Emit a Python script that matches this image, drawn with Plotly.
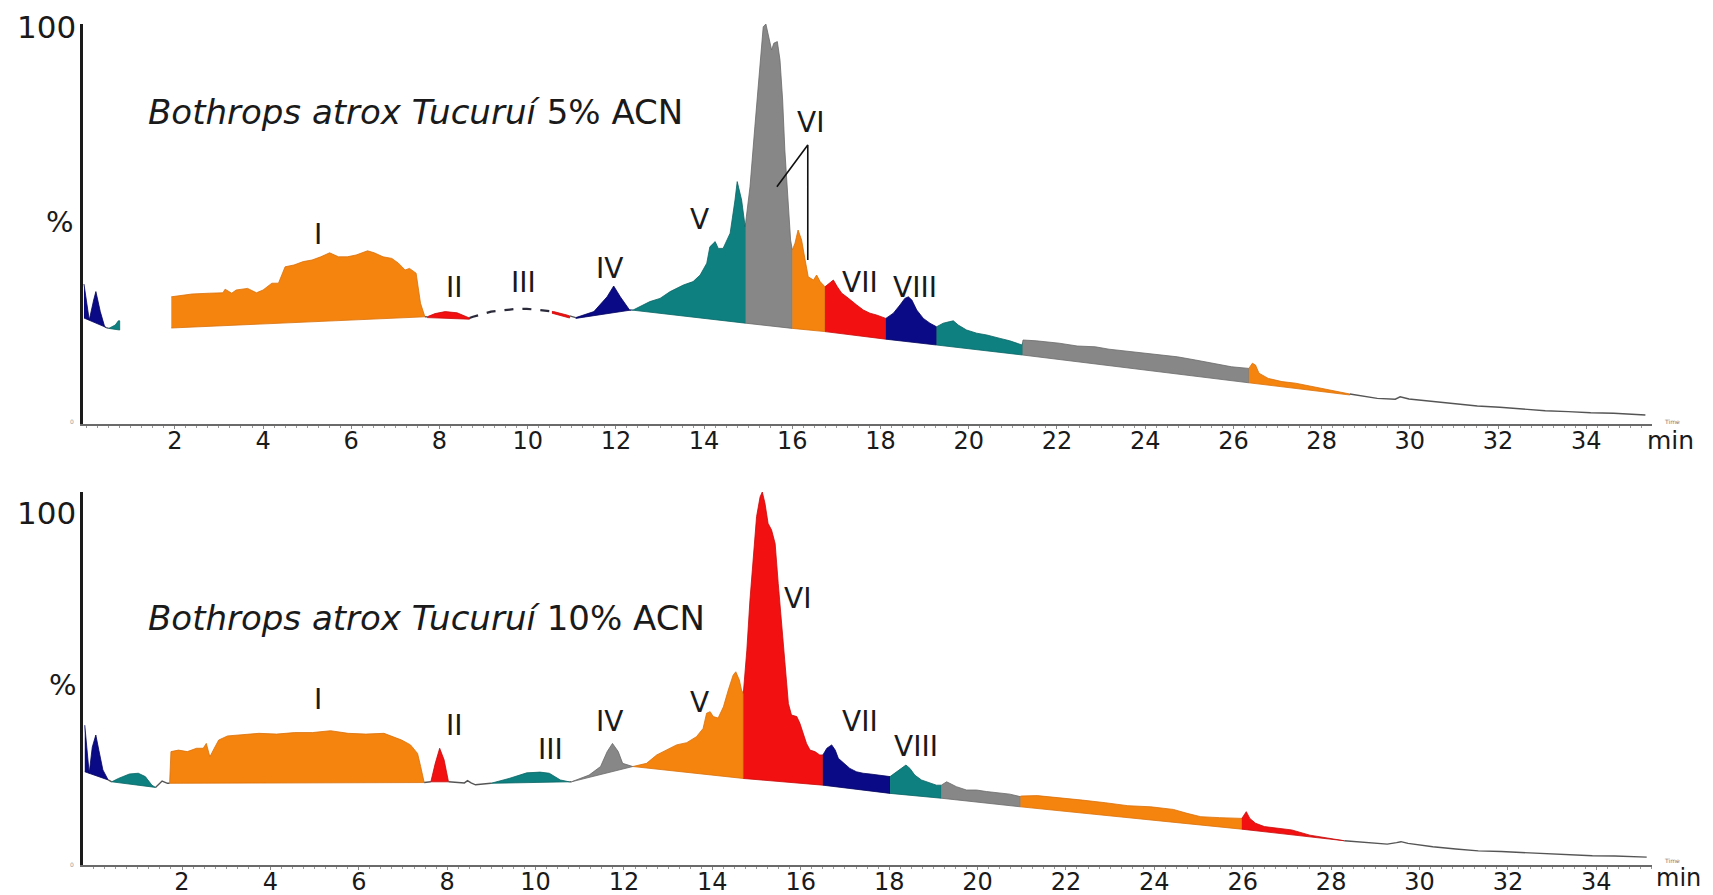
import numpy as np
import plotly.graph_objects as go

W, H = 1713, 895

# ---------------- data: top chromatogram (5% ACN) ----------------
top_sig_t = [-0.06, 0.0, 0.06, 0.16, 0.21, 0.31, 0.41, 0.45,
             0.5, 0.65, 0.72, 0.75,
             1.92, 2.39, 2.79, 3.09, 3.14, 3.29, 3.39, 3.65, 3.85, 4.00, 4.20, 4.35, 4.50, 4.70, 4.91, 5.11,
             5.31, 5.51, 5.71, 5.91, 6.11, 6.37, 6.52, 6.72, 6.92, 7.07, 7.22, 7.32, 7.47, 7.57, 7.67,
             7.72, 7.90, 8.13, 8.40, 8.68,
             8.76, 9.17, 9.68, 9.98, 10.28, 10.59, 10.89, 11.04,
             11.09, 11.50, 11.80, 11.95, 12.10, 12.31,
             12.39, 12.77, 13.00, 13.23, 13.53, 13.75, 13.91, 14.06, 14.13, 14.25, 14.32, 14.43, 14.59, 14.70,
             14.75, 14.85, 14.93,
             15.04, 15.15, 15.27, 15.34, 15.40, 15.45, 15.53, 15.58, 15.66, 15.72, 15.78, 15.83, 15.91, 15.96, 16.00,
             16.06, 16.13, 16.21, 16.29, 16.36, 16.48, 16.55, 16.63, 16.74,
             16.85, 16.93, 17.02, 17.12, 17.23, 17.35, 17.46, 17.61, 17.76, 17.91, 18.03, 18.12,
             18.29, 18.44, 18.55, 18.63, 18.71, 18.82, 18.97, 19.12, 19.27,
             19.42, 19.57, 19.65, 19.76, 19.95, 20.18, 20.41, 20.71, 20.93, 21.21,
             21.23, 21.53, 22.05, 22.46, 22.87, 23.18, 23.70, 24.21, 24.73, 25.14, 25.55, 25.96, 26.35,
             26.43, 26.50, 26.58, 26.79, 27.10, 27.41, 27.82, 28.23, 28.64,
             29.26, 29.67, 29.78, 29.98, 30.50, 31.01, 31.53, 32.04, 32.56, 33.07, 33.59, 34.10, 34.62, 35.34]
top_sig_y = [35, 30, 26, 31, 33.1, 28.1, 24.3, 24.1,
             23.9, 24.75, 25.8, 25.8,
             31.8, 32.5, 32.7, 32.8, 33.7, 32.7, 33.5, 33.9, 32.8, 33.5, 35.2, 35.2, 39.3, 39.75, 40.6, 41.0,
             41.8, 42.8, 41.8, 41.8, 42.25, 43.3, 42.8, 41.8, 41.4, 40.2, 38.5, 38.9, 37.7, 30.2, 26.8,
             26.8, 27.6, 28.1, 27.8, 26.5,
             26.8, 28.1, 28.7, 28.8, 28.5, 28.1, 27.25, 26.7,
             26.6, 28.1, 31.8, 34.5, 31.8, 28.5,
             28.5, 30.6, 31.4, 33.1, 34.75, 35.6, 37.25, 40.2, 44.3, 45.6, 43.9, 43.9, 47.7, 56.0,
             60.6, 56.0, 49.3,
             59.3, 74.3, 89.3, 99.3, 100.0, 97.7, 93.5, 95.2, 95.6, 91.0, 81.0, 68.5, 56.0, 46.0, 43.5,
             45.2, 48.5, 46.0, 41.0, 36.8, 36.0, 37.25, 35.6, 34.3,
             35.2, 36.0, 34.3, 32.7, 31.8, 30.6, 29.75, 28.5, 27.7, 27.25, 26.8, 26.4,
             27.7, 29.75, 31.4, 31.8, 31.0, 28.5, 26.4, 25.2, 24.3,
             25.2, 25.6, 25.8, 24.75, 23.5, 22.7, 22.25, 21.4, 20.8, 19.75,
             21.0, 20.8, 20.2, 19.5, 19.3, 18.7, 18.1, 17.5, 16.8, 16.0, 15.2, 14.3, 13.9,
             15.2, 14.75, 12.7, 11.4, 10.6, 10.2, 9.3, 8.3, 7.5,
             6.4, 6.2, 6.8, 6.25, 5.6, 5.0, 4.5, 4.2, 3.7, 3.3, 3.1, 2.8, 2.7, 2.25]
top_base_t = [-0.06, 0.45, 0.50, 0.75, 1.92, 7.67, 7.72, 8.68, 10.55, 10.95, 11.09, 12.35, 14.94,
              16.00, 16.74, 18.12, 19.27, 21.22, 26.35, 28.64, 35.4]
top_base_y = [26.5, 24.1, 23.9, 23.5, 24.0, 26.8, 26.6, 26.2, 27.7, 26.5, 26.4, 28.5, 25.2,
              23.9, 23.1, 21.2, 19.75, 17.25, 10.3, 7.25, 2.0]
top_bounds = [-0.06, 0.45, 0.50, 0.75, 1.92, 7.67, 7.72, 8.68, 10.55, 10.95, 11.09, 12.35, 14.94,
              16.00, 16.74, 18.12, 19.27, 21.22, 26.35, 28.64, 35.34]
top_kinds = ["navy", "line", "teal", "blank", "orange", "line", "red", "dash", "red", "line",
             "navy", "teal", "gray", "orange", "red", "navy", "teal", "gray", "orange", "line"]
top_label_text = ["I", "II", "III", "IV", "V", "VI", "VII", "VIII"]
top_label_t = [5.24, 8.34, 9.90, 11.86, 13.89, 16.41, 17.53, 18.79]
top_label_y = [47.25, 34.2, 35.5, 38.8, 51.1, 75.4, 35.5, 34.2]
vi_ptr_t = [15.65, 16.35, 16.35]
vi_ptr_y = [59.3, 69.75, 41.0]

# ---------------- data: bottom chromatogram (10% ACN) ----------------
bot_sig_t = [-0.20, -0.10, -0.03, 0.05, 0.12, 0.21, 0.33,
             0.41, 0.56, 0.81, 1.01, 1.17, 1.32, 1.40,
             1.47, 1.55, 1.67,
             1.72, 1.75, 1.92, 2.12, 2.33, 2.48, 2.55, 2.63, 2.73, 2.83, 3.03, 3.34, 3.74, 4.14, 4.55, 4.95,
             5.36, 5.76, 6.16, 6.57, 6.77, 6.97, 7.17, 7.33, 7.40, 7.48,
             7.63, 7.73, 7.83, 7.93, 8.03,
             8.39, 8.46, 8.54, 8.64,
             8.99, 9.40, 9.80, 10.10, 10.31, 10.56, 10.76,
             10.81, 11.21, 11.47, 11.62, 11.74, 11.87, 11.97, 12.12,
             12.20, 12.51, 12.74, 12.97, 13.19, 13.42, 13.64, 13.79, 13.87, 13.95, 14.02, 14.13, 14.25, 14.36,
             14.47, 14.53, 14.61, 14.66, 14.70,
             14.78, 14.85, 14.93, 15.00, 15.08, 15.13, 15.19, 15.26, 15.34, 15.42, 15.49, 15.57, 15.64, 15.72,
             15.79, 15.91, 15.98, 16.06, 16.13, 16.21, 16.32, 16.43, 16.50,
             16.59, 16.70, 16.78, 16.85, 16.97, 17.11, 17.26, 17.41, 17.57, 17.72, 17.87, 18.02,
             18.17, 18.28, 18.38, 18.47, 18.58, 18.73, 18.92, 19.07, 19.18,
             19.30, 19.37, 19.52, 19.75, 19.98, 20.20, 20.50, 20.73, 20.96,
             20.99, 21.35, 21.86, 22.37, 22.89, 23.40, 23.92, 24.43, 24.74, 25.05, 25.47, 25.98,
             26.08, 26.16, 26.29, 26.49, 26.80, 27.11, 27.52, 27.94, 28.30,
             28.76, 29.27, 29.48, 29.58, 29.74, 30.30, 30.82, 31.33, 31.85, 32.36, 32.88, 33.39, 33.91,
             34.42, 35.14]
bot_sig_y = [37.5, 24.6, 31.6, 34.85, 30.7, 25.5, 22.8,
             22.3, 23.2, 24.4, 24.6, 23.7, 21.4, 20.8,
             21.5, 22.5, 21.9,
             21.9, 30.4, 30.8, 30.4, 31.3, 31.3, 32.6, 29.0, 31.3, 33.5, 34.6, 34.85, 35.3, 35.1, 35.5, 35.5,
             36.0, 35.3, 35.1, 35.3, 34.4, 33.5, 32.2, 29.9, 26.4, 22.1,
             22.3, 27.25, 31.3, 28.2, 22.3,
             22.0, 22.6, 22.0, 21.5,
             21.9, 23.2, 24.7, 24.9, 24.6, 22.8, 22.3,
             22.3, 24.1, 26.4, 30.4, 32.6, 30.4, 27.25, 26.6,
             26.4, 27.25, 29.5, 30.8, 32.2, 32.8, 34.4, 36.6, 40.7, 41.1, 39.8, 39.4, 42.4, 46.9,
             50.9, 51.8, 49.6, 46.9, 46.0,
             57.6, 71.0, 82.7, 93.4, 98.7, 100.0, 97.0, 91.6, 89.8, 86.2, 75.5, 63.9, 53.2, 43.3,
             40.2, 39.8, 38.0, 35.3, 32.6, 30.8, 30.4, 29.5, 29.5,
             31.3, 32.2, 30.8, 28.6, 27.25, 25.9, 25.0, 24.6, 24.4, 24.1, 23.9, 23.7,
             25.0, 25.9, 26.8, 25.9, 24.1, 22.8, 21.9, 21.4, 21.4,
             22.3, 21.9, 21.0, 20.1, 20.1, 19.7, 19.4, 19.0, 18.35,
             18.5, 18.6, 17.9, 17.4, 16.7, 15.9, 15.6, 14.9, 13.85, 12.95, 12.7, 12.5,
             14.3, 12.5, 11.2, 10.3, 9.9, 9.4, 8.0, 7.2, 6.5,
             6.0, 5.6, 6.0, 6.25, 5.8, 4.9, 4.3, 3.8, 3.6, 3.3, 3.0, 2.8, 2.5,
             2.4, 2.1]
bot_base_t = [-0.20, 0.33, 0.41, 1.40, 1.72, 7.48, 7.63, 8.03, 8.99, 10.76, 10.81, 12.20, 14.70,
              16.50, 18.02, 19.18, 20.97, 25.98, 28.30, 35.2]
bot_base_y = [25.0, 22.8, 22.3, 20.8, 21.9, 22.1, 22.3, 22.3, 21.9, 22.3, 22.3, 26.4, 23.2,
              21.4, 19.2, 17.9, 15.6, 9.6, 6.5, 2.0]
bot_bounds = [-0.20, 0.33, 0.41, 1.40, 1.72, 7.48, 7.63, 8.03, 8.99, 10.76, 10.81, 12.20, 14.70,
              16.50, 18.02, 19.18, 20.97, 25.98, 28.30, 35.14]
bot_kinds = ["navy", "line", "teal", "line", "orange", "line", "red", "line", "teal", "line",
             "gray", "orange", "red", "navy", "teal", "gray", "orange", "red", "line"]
bot_label_text = ["I", "II", "III", "IV", "V", "VI", "VII", "VIII"]
bot_label_t = [5.08, 8.17, 10.34, 11.67, 13.70, 15.93, 17.33, 18.60]
bot_label_y = [44.5, 37.4, 31.0, 38.6, 43.6, 71.4, 38.6, 31.9]

tick_vals = list(range(2, 35, 2))
tick_text = [str(v) for v in tick_vals]
titles = ["<i>Bothrops atrox Tucuruí</i> 5% ACN", "<i>Bothrops atrox Tucuruí</i> 10% ACN"]

# ---------------- styles ----------------
FILL = {"orange": "#F5840F", "teal": "#0E8080", "navy": "#0A0A86", "gray": "#878787", "red": "#F21010"}
EDGE = {"orange": "#D9700A", "teal": "#0A6464", "navy": "#050560", "gray": "#6A6A6A", "red": "#C80A0A"}
FONT = "DejaVu Sans"

fig = go.Figure()


def add_panel(sig_t, sig_y, base_t, base_y, bounds, kinds, xa, ya):
    st = np.asarray(sig_t, float)
    sy = np.asarray(sig_y, float)
    bt = np.asarray(base_t, float)
    by = np.asarray(base_y, float)
    for i, kind in enumerate(kinds):
        a, b = bounds[i], bounds[i + 1]
        inner = (st > a) & (st < b)
        xs = np.concatenate([[a], st[inner], [b]])
        ys = np.concatenate([[np.interp(a, st, sy)], sy[inner], [np.interp(b, st, sy)]])
        if kind == "blank":
            continue
        if kind in ("line", "dash"):
            fig.add_trace(go.Scatter(
                x=xs, y=ys, mode="lines", xaxis=xa, yaxis=ya, hoverinfo="skip",
                line=dict(color="#555555" if kind == "line" else "#2a2a3a",
                          width=1.4 if kind == "line" else 2.2,
                          dash="solid" if kind == "line" else "dash")))
            continue
        binner = (bt > a) & (bt < b)
        bx = np.concatenate([[a], bt[binner], [b]])
        byy = np.concatenate([[np.interp(a, bt, by)], by[binner], [np.interp(b, bt, by)]])
        px = np.concatenate([xs, bx[::-1]])
        py = np.concatenate([ys, byy[::-1]])
        fig.add_trace(go.Scatter(
            x=px, y=py, mode="lines", fill="toself", fillcolor=FILL[kind],
            line=dict(color=EDGE[kind], width=0.8), xaxis=xa, yaxis=ya, hoverinfo="skip"))


add_panel(top_sig_t, top_sig_y, top_base_t, top_base_y, top_bounds, top_kinds, "x", "y")
add_panel(bot_sig_t, bot_sig_y, bot_base_t, bot_base_y, bot_bounds, bot_kinds, "x2", "y2")

# pointer lines for VI (top)
fig.add_trace(go.Scatter(x=vi_ptr_t, y=vi_ptr_y, mode="lines", xaxis="x", yaxis="y",
                         line=dict(color="#111111", width=1.6), hoverinfo="skip"))

annotations = []
for txt, t, y in zip(top_label_text, top_label_t, top_label_y):
    annotations.append(dict(text=txt, x=t, y=y, xref="x", yref="y", showarrow=False,
                            font=dict(family=FONT, size=28, color="#1a1a1a")))
for txt, t, y in zip(bot_label_text, bot_label_t, bot_label_y):
    annotations.append(dict(text=txt, x=t, y=y, xref="x2", yref="y2", showarrow=False,
                            font=dict(family=FONT, size=28, color="#1a1a1a")))


def paper(xp, yp):
    return xp / W, (H - yp) / H


def add_text(txt, xp, yp, size, color="#1a1a1a", xanchor="center"):
    x, y = paper(xp, yp)
    annotations.append(dict(text=txt, x=x, y=y, xref="paper", yref="paper", showarrow=False,
                            xanchor=xanchor, yanchor="middle",
                            font=dict(family=FONT, size=size, color=color)))


add_text(titles[0], 146, 112, 34, xanchor="left")
add_text(titles[1], 146, 618, 34, xanchor="left")
add_text("100", 46, 27, 31)
add_text("100", 46, 513, 31)
add_text("%", 60, 222, 29)
add_text("%", 63, 685, 29)
add_text("min", 1670, 440, 25)
add_text("min", 1678, 878, 24)
add_text("Time", 1672, 421, 6, color="#777777")
add_text("Time", 1672, 860, 6, color="#777777")
add_text("0", 72, 422, 6, color="#999999")
add_text("0", 72, 864, 6, color="#999999")

x_dom = [83 / W, 1652 / W]
xaxis_common = dict(
    domain=x_dom, showgrid=False, zeroline=False, showline=True, linecolor="#6a6a6a", linewidth=1.5,
    tickmode="array", tickvals=tick_vals, ticktext=tick_text, ticks="outside", ticklen=3,
    tickcolor="#888888", tickwidth=1, ticklabelstandoff=-9, automargin=False,
    tickfont=dict(family=FONT, size=24, color="#1a1a1a"),
    minor=dict(tickmode="linear", tick0=0, dtick=0.25, ticks="outside", ticklen=2,
               tickcolor="#999999", tickwidth=1, showgrid=False),
    fixedrange=True,
)
yaxis_common = dict(showgrid=False, zeroline=False, showline=True, linecolor="#1a1a1a", linewidth=3,
                    ticks="", showticklabels=False, range=[0, 100], fixedrange=True, automargin=False)

fig.update_layout(
    width=W, height=H, margin=dict(l=0, r=0, t=0, b=0, autoexpand=False),
    paper_bgcolor="white", plot_bgcolor="white", showlegend=False,
    xaxis=dict(xaxis_common, range=[-0.082, 35.49], anchor="y"),
    yaxis=dict(yaxis_common, domain=[(H - 424) / H, (H - 24) / H], anchor="x"),
    xaxis2=dict(xaxis_common, range=[-0.24, 35.26], anchor="y2"),
    yaxis2=dict(yaxis_common, domain=[(H - 865) / H, (H - 492) / H], anchor="x2"),
    annotations=annotations,
)

fig.write_html("out.html", config={"displayModeBar": False},
               post_script="document.body.style.margin='0px';")
